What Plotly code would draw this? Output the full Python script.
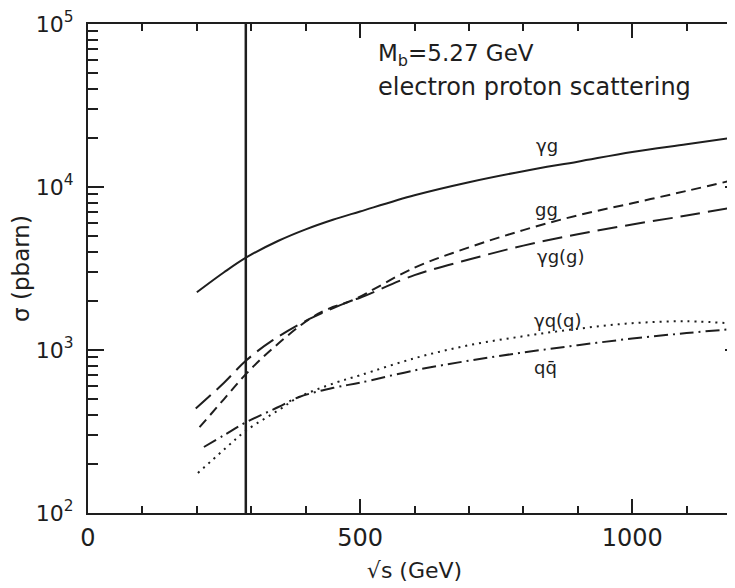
import plotly.graph_objects as go

# ---- data ----
x_gamma_g = [200, 250, 291, 350, 400, 450, 500, 600, 700, 800, 900, 1000, 1100, 1190]
y_gamma_g = [2260, 3000, 3700, 4680, 5500, 6300, 7080, 8900, 10700, 12500, 14300, 16400, 18300, 20200]

x_gg = [205, 250, 291, 339, 407, 443, 486, 600, 700, 800, 900, 1000, 1100, 1190]
y_gg = [336, 500, 716, 1020, 1550, 1795, 2020, 3200, 4260, 5440, 6700, 7950, 9460, 11100]

x_gamma_gg = [198, 250, 291, 339, 407, 486, 500, 600, 700, 800, 900, 1000, 1100, 1190]
y_gamma_gg = [437, 630, 865, 1145, 1550, 2020, 2090, 2880, 3590, 4370, 5130, 5890, 6680, 7550]

x_gamma_qq = [202, 250, 291, 350, 388, 455, 500, 600, 700, 800, 900, 1000, 1100, 1190]
y_gamma_qq = [176, 245, 321, 427, 515, 630, 700, 890, 1070, 1215, 1350, 1460, 1500, 1450]

x_qqbar = [213, 250, 291, 350, 388, 455, 500, 600, 700, 800, 900, 1000, 1100, 1190]
y_qqbar = [254, 300, 361, 447, 515, 590, 630, 750, 860, 966, 1070, 1175, 1270, 1350]

vline_x = [290, 290]
vline_y = [100, 100000]

label_text = ["γg", "gg", "γg(g)", "γq(q)", "qq̄"]
label_x = [843, 842, 870, 864, 840]
label_y = [4.256, 3.862, 3.574, 3.181, 2.894]

x_tickvals = [0, 500, 1000]
x_ticktext = ["0", "500", "1000"]
y_tickvals = [100, 1000, 10000, 100000]
y_ticktext = ["10<sup>2</sup>", "10<sup>3</sup>", "10<sup>4</sup>", "10<sup>5</sup>"]

INK = "#1e1e1e"
FONT = "DejaVu Sans"

fig = go.Figure()
fig.add_trace(go.Scatter(x=vline_x, y=vline_y, mode="lines",
                         line=dict(color=INK, width=2.5), hoverinfo="skip"))
fig.add_trace(go.Scatter(x=x_gamma_g, y=y_gamma_g, mode="lines", line_shape="spline",
                         line=dict(color=INK, width=2)))
fig.add_trace(go.Scatter(x=x_gg, y=y_gg, mode="lines", line_shape="spline",
                         line=dict(color=INK, width=2, dash="10px,6px")))
fig.add_trace(go.Scatter(x=x_gamma_gg, y=y_gamma_gg, mode="lines", line_shape="spline",
                         line=dict(color=INK, width=2, dash="20px,8px")))
fig.add_trace(go.Scatter(x=x_gamma_qq, y=y_gamma_qq, mode="lines", line_shape="spline",
                         line=dict(color=INK, width=2, dash="2px,5px")))
fig.add_trace(go.Scatter(x=x_qqbar, y=y_qqbar, mode="lines", line_shape="spline",
                         line=dict(color=INK, width=2, dash="14px,5px,2px,5px")))

for t, lx, ly in zip(label_text, label_x, label_y):
    fig.add_annotation(x=lx, y=ly, text=t, showarrow=False,
                       font=dict(family=FONT, size=18, color=INK))

fig.add_annotation(xref="paper", yref="paper", x=0.441, y=0.936, xanchor="left", yanchor="middle",
                   text="M<sub>b</sub>=5.27 GeV", showarrow=False,
                   font=dict(family=FONT, size=23, color=INK))
fig.add_annotation(xref="paper", yref="paper", x=0.441, y=0.872, xanchor="left", yanchor="middle",
                   text="electron proton scattering", showarrow=False,
                   font=dict(family=FONT, size=24, color=INK))

fig.update_layout(
    width=735, height=588,
    margin=dict(l=80, r=0, t=16, b=83),
    paper_bgcolor="white", plot_bgcolor="white",
    showlegend=False,
    font=dict(family=FONT, color=INK),
    xaxis=dict(range=[0, 1200], showgrid=False, zeroline=False,
               showline=True, linecolor=INK, linewidth=2, mirror="ticks",
               ticks="inside", ticklen=14, tickwidth=1.5, tickcolor=INK,
               tickvals=x_tickvals, ticktext=x_ticktext, ticklabelstandoff=2,
               tickfont=dict(family=FONT, size=24, color=INK),
               minor=dict(ticks="inside", dtick=100, ticklen=7, tickwidth=1.5, tickcolor=INK),
               title=dict(text="√s (GeV)", font=dict(family=FONT, size=22, color=INK), standoff=12)),
    yaxis=dict(type="log", range=[2, 5], showgrid=False, zeroline=False,
               showline=True, linecolor=INK, linewidth=2, mirror="ticks",
               ticks="inside", ticklen=16, tickwidth=1.5, tickcolor=INK,
               tickvals=y_tickvals, ticktext=y_ticktext, ticklabelstandoff=8,
               tickfont=dict(family=FONT, size=22, color=INK),
               minor=dict(ticks="inside", ticklen=10, tickwidth=1.5, tickcolor=INK, dtick="D1"),
               title=dict(text="σ (pbarn)", font=dict(family=FONT, size=23, color=INK), standoff=6)),
)

fig.write_html("out.html")
